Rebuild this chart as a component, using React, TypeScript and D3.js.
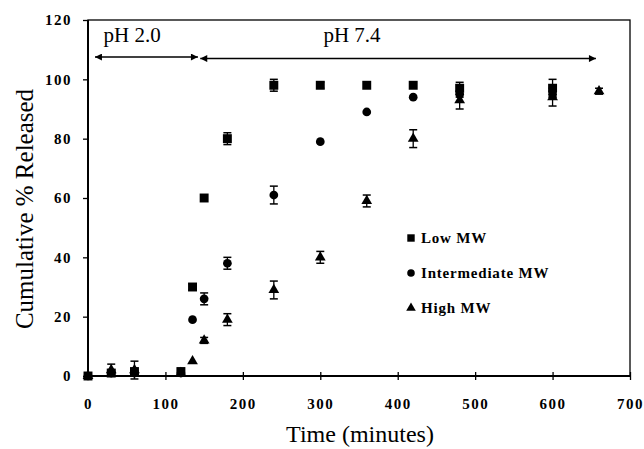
import React, { useRef, useEffect } from 'react';
import * as d3 from 'd3';

// sampling times (minutes)
const times = [0, 30, 60, 120, 135, 150, 180, 240, 300, 360, 420, 480, 600, 660];

// cumulative % released (null = no point)
const lowMW = [0, 1, 1.5, 1.5, 30, 60, 80, 98, 98, 98, 98, 97, 97, null];
const lowErr = [0, 1, 1, 1, 1, 0.5, 2, 2, 1, 0.5, 0.5, 2, 3, 0];
const midMW = [0, 1, 1, 1, 19, 26, 38, 61, 79, 89, 94, 95, 95, null];
const midErr = [0, 1, 1, 0.5, 0.5, 2, 2, 3, 0.5, 0.5, 0.5, 1, 1, 0];
const highMW = [0, 2, 2, 1, 5, 12, 19, 29, 40, 59, 80, 93, 94, 96];
const highErr = [0, 2, 3, 1, 0.5, 1, 2, 3, 2, 2, 3, 3, 3, 1];

const xTicks = [0, 100, 200, 300, 400, 500, 600, 700];
const yTicks = [0, 20, 40, 60, 80, 100, 120];

const seriesNames = ['Low MW', 'Intermediate MW', 'High MW'];
const seriesShapes = [d3.symbolSquare, d3.symbolCircle, d3.symbolTriangle];
const seriesValues = [lowMW, midMW, highMW];
const seriesErrors = [lowErr, midErr, highErr];

// pH phase annotations: [start, end] in minutes
const phLabels = ['pH 2.0', 'pH 7.4'];
const phRanges = [[9, 142], [145, 656]];
const phLevel = [107.5, 107];

const App = () => {
  const ref = useRef(null);

  useEffect(() => {
    const svg = d3.select(ref.current);
    svg.selectAll('*').remove();

    const font = '"Liberation Serif", "Times New Roman", serif';
    const left = 88, right = 630, top = 20, bottom = 376;

    const x = d3.scaleLinear().domain([0, 700]).range([left, right]);
    const y = d3.scaleLinear().domain([0, 120]).range([bottom, top]);

    // arrow marker
    const defs = svg.append('defs');
    defs.append('marker')
      .attr('id', 'ah')
      .attr('viewBox', '0 0 10 10')
      .attr('refX', 10).attr('refY', 5)
      .attr('markerWidth', 10).attr('markerHeight', 7)
      .attr('markerUnits', 'userSpaceOnUse')
      .attr('orient', 'auto-start-reverse')
      .append('path')
      .attr('d', 'M0,0 L10,5 L0,10 Z')
      .attr('fill', '#000');

    // frame
    svg.append('rect')
      .attr('x', left).attr('y', top)
      .attr('width', right - left).attr('height', bottom - top)
      .attr('fill', 'none').attr('stroke', '#000').attr('stroke-width', 1.3);
    svg.append('line')
      .attr('x1', left).attr('x2', left).attr('y1', top).attr('y2', bottom)
      .attr('stroke', '#000').attr('stroke-width', 2);
    svg.append('line')
      .attr('x1', left).attr('x2', right).attr('y1', bottom).attr('y2', bottom)
      .attr('stroke', '#000').attr('stroke-width', 2);

    // axes
    const xAxis = svg.append('g').attr('transform', `translate(0,${bottom})`)
      .call(d3.axisBottom(x).tickValues(xTicks).tickSize(4).tickPadding(18));
    xAxis.select('.domain').remove();
    xAxis.selectAll('.tick line').attr('y1', -4).attr('stroke-width', 1.3);
    xAxis.selectAll('text').attr('font-family', font).attr('font-size', 15)
      .attr('font-weight', 'bold').attr('letter-spacing', 1.5).attr('fill', '#000');

    const yAxis = svg.append('g').attr('transform', `translate(${left},0)`)
      .call(d3.axisLeft(y).tickValues(yTicks).tickSize(5).tickPadding(11));
    yAxis.select('.domain').remove();
    yAxis.selectAll('.tick line').attr('stroke-width', 1.3);
    yAxis.selectAll('text').attr('font-family', font).attr('font-size', 15)
      .attr('font-weight', 'bold').attr('letter-spacing', 1.5).attr('fill', '#000');

    // titles
    svg.append('text')
      .attr('x', 360).attr('y', 442)
      .attr('text-anchor', 'middle')
      .attr('font-family', font).attr('font-size', 24)
      .text('Time (minutes)');
    svg.append('text')
      .attr('transform', `translate(33,209) rotate(-90)`)
      .attr('text-anchor', 'middle')
      .attr('font-family', font).attr('font-size', 25)
      .text('Cumulative % Released');

    // pH arrows
    phRanges.forEach((r, i) => {
      svg.append('line')
        .attr('x1', x(r[0])).attr('x2', x(r[1]))
        .attr('y1', y(phLevel[i])).attr('y2', y(phLevel[i]))
        .attr('stroke', '#000').attr('stroke-width', 1.5)
        .attr('marker-start', 'url(#ah)').attr('marker-end', 'url(#ah)');
    });
    svg.append('text')
      .attr('x', x(20)).attr('y', y(112.5))
      .attr('font-family', font).attr('font-size', 21)
      .text(phLabels[0]);
    svg.append('text')
      .attr('x', x(304)).attr('y', y(112.5))
      .attr('font-family', font).attr('font-size', 21)
      .text(phLabels[1]);

    // error bars + markers
    seriesValues.forEach((vals, s) => {
      const g = svg.append('g');
      const pts = times.map((t, i) => ({ t, v: vals[i], e: seriesErrors[s][i] }))
        .filter((d) => d.v !== null);

      pts.filter((d) => d.e > 0.8).forEach((d) => {
        const cx = x(d.t);
        const y1 = y(d.v + d.e), y2 = y(d.v - d.e);
        g.append('line').attr('x1', cx).attr('x2', cx).attr('y1', y1).attr('y2', y2)
          .attr('stroke', '#000').attr('stroke-width', 1.3);
        [y1, y2].forEach((yy) => {
          g.append('line').attr('x1', cx - 4).attr('x2', cx + 4).attr('y1', yy).attr('y2', yy)
            .attr('stroke', '#000').attr('stroke-width', 1.5);
        });
      });

      const sizes = [80, 60, 50];
      const sym = d3.symbol().type(seriesShapes[s]).size(sizes[s]);
      g.selectAll('path.pt').data(pts).enter().append('path')
        .attr('class', 'pt')
        .attr('d', sym)
        .attr('transform', (d) => `translate(${x(d.t)},${y(d.v)})`)
        .attr('fill', '#000');
    });

    // legend
    const legend = svg.append('g').attr('transform', 'translate(411,238)');
    const legendSizes = [55, 45, 40];
    seriesNames.forEach((name, i) => {
      const row = legend.append('g').attr('transform', `translate(0,${i * 35})`);
      row.append('path')
        .attr('d', d3.symbol().type(seriesShapes[i]).size(legendSizes[i])())
        .attr('fill', '#000');
      row.append('text')
        .attr('x', 10).attr('y', 5)
        .attr('font-family', font).attr('font-size', 15).attr('font-weight', 'bold')
        .attr('letter-spacing', 0.8)
        .text(name);
    });
  }, []);

  return (
    <svg
      ref={ref}
      width={644}
      height={449}
      style={{ position: 'absolute', left: 0, top: 0, background: '#fff' }}
    />
  );
};

export default App;
